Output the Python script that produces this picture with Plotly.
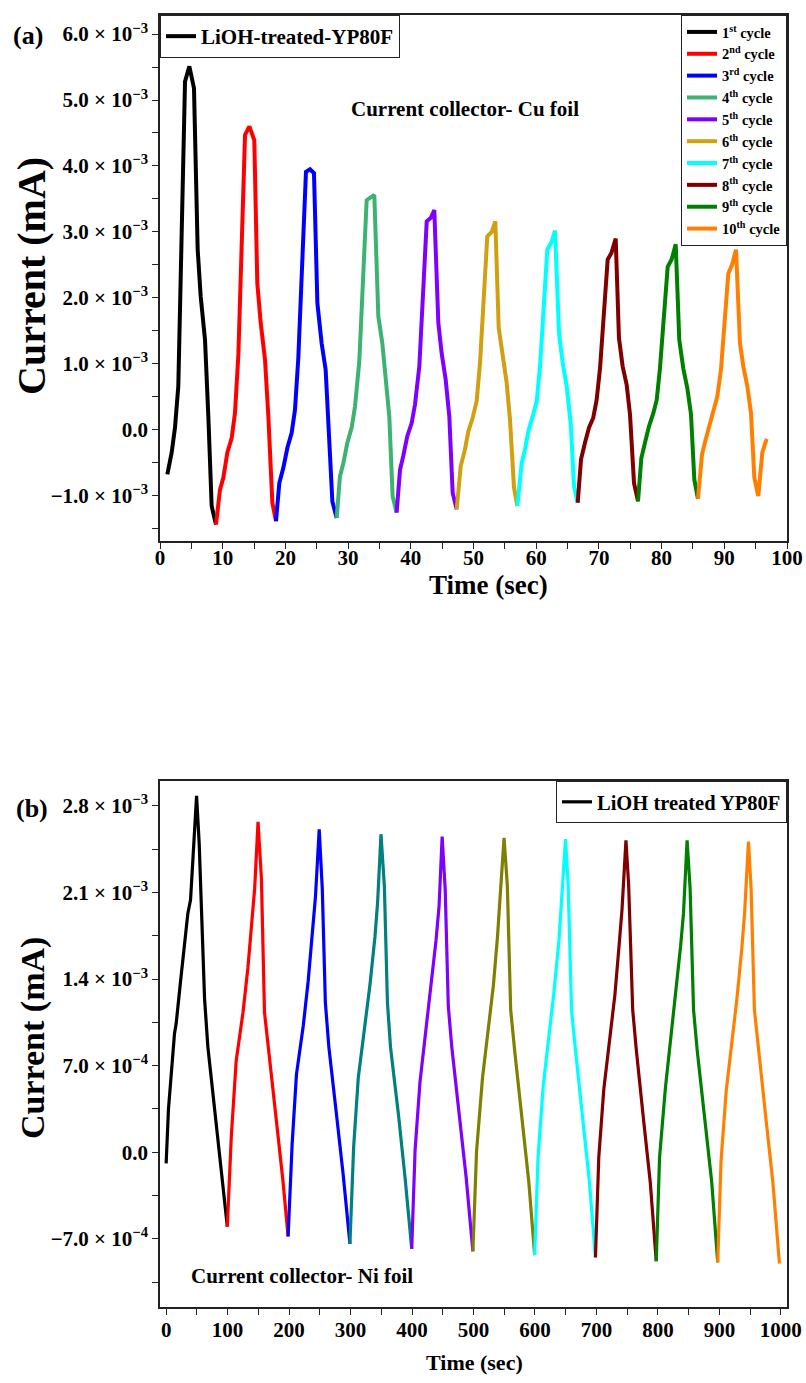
import plotly.graph_objects as go

W, H = 806, 1383
SCALE = 1e-3  # values below are in units of 10^-3 mA

# ---------------- Panel (a): Cu foil ----------------
cycle_names = ["1<sup>st</sup> cycle", "2<sup>nd</sup> cycle", "3<sup>rd</sup> cycle",
               "4<sup>th</sup> cycle", "5<sup>th</sup> cycle", "6<sup>th</sup> cycle",
               "7<sup>th</sup> cycle", "8<sup>th</sup> cycle", "9<sup>th</sup> cycle",
               "10<sup>th</sup> cycle"]
colors_a = ["#000000", "#FF0000", "#0000FF", "#3CB371", "#8000FF",
            "#D0A010", "#00FFFF", "#800000", "#008000", "#FF8000"]

t_a1 = [1.17, 1.86, 2.39, 2.92, 3.99, 4.68, 5.42, 6.01, 6.49, 7.18, 7.71, 8.24, 8.93]
i_a1 = [-0.68, -0.35, 0.03, 0.66, 5.28, 5.51, 5.18, 2.73, 2.02, 1.36, 0.20, -1.16, -1.44]
t_a2 = [9.57, 10.1, 10.74, 11.43, 11.96, 12.5, 13.56, 14.25, 15.04, 15.52, 16.06, 16.75, 17.28, 17.92, 18.5]
i_a2 = [-0.91, -0.73, -0.35, -0.13, 0.25, 1.14, 4.47, 4.60, 4.39, 2.22, 1.62, 1.06, 0.2, -1.11, -1.39]
t_a3 = [19.03, 19.67, 20.31, 21.0, 21.53, 22.06, 23.28, 23.92, 24.56, 25.1, 25.78, 26.42, 26.95, 27.49, 28.18]
i_a3 = [-0.81, -0.58, -0.28, -0.05, 0.30, 1.09, 3.91, 3.95, 3.89, 1.92, 1.31, 0.91, -0.05, -1.09, -1.34]
t_a4 = [28.7, 29.24, 29.88, 30.57, 31.1, 31.79, 32.96, 34.18, 34.82, 35.46, 36.04, 36.57, 37.1, 37.74]
i_a4 = [-0.71, -0.51, -0.20, 0.03, 0.35, 1.04, 3.48, 3.56, 1.72, 1.31, 0.78, 0.2, -1.01, -1.26]
t_a5 = [38.28, 38.8, 39.44, 40.14, 40.67, 41.36, 42.54, 43.17, 43.75, 44.39, 44.92, 45.56, 46.14, 46.68, 47.32]
i_a5 = [-0.61, -0.40, -0.10, 0.10, 0.38, 0.96, 3.16, 3.21, 3.33, 1.62, 1.16, 0.76, 0.20, -0.96, -1.21]
t_a6 = [47.95, 48.64, 49.17, 49.87, 50.5, 51.04, 52.2, 52.9, 53.48, 54.02, 54.65, 55.29, 55.82, 56.46, 56.99]
i_a6 = [-0.56, -0.30, -0.03, 0.18, 0.43, 1.01, 2.93, 3.0, 3.16, 1.54, 1.09, 0.71, 0.15, -0.88, -1.16]
t_a7 = [57.68, 58.21, 58.74, 59.44, 60.08, 60.61, 61.77, 62.47, 63.0, 63.64, 64.23, 64.86, 65.5, 66.03, 66.62]
i_a7 = [-0.51, -0.30, -0.03, 0.20, 0.43, 0.96, 2.73, 2.85, 3.02, 1.46, 1.01, 0.66, 0.1, -0.86, -1.11]
t_a8 = [67.15, 67.78, 68.42, 69.1, 69.64, 70.18, 71.4, 72.0, 72.68, 73.2, 73.79, 74.43, 74.96, 75.6, 76.24]
i_a8 = [-0.45, -0.20, 0.03, 0.18, 0.45, 0.93, 2.58, 2.68, 2.90, 1.39, 0.96, 0.68, 0.23, -0.81, -1.09]
t_a9 = [76.77, 77.35, 77.99, 78.68, 79.22, 79.74, 80.97, 81.6, 82.25, 82.82, 83.46, 84.1, 84.69, 85.22, 85.8]
i_a9 = [-0.43, -0.20, 0.05, 0.25, 0.45, 0.93, 2.47, 2.58, 2.81, 1.36, 0.93, 0.63, 0.23, -0.76, -1.05]
t_a10 = [86.44, 87.03, 87.6, 88.25, 88.88, 89.47, 90.64, 91.23, 91.87, 92.5, 93.03, 93.67, 94.26, 94.79, 95.42, 96.06, 96.75]
i_a10 = [-0.38, -0.15, 0.08, 0.28, 0.5, 0.91, 2.37, 2.5, 2.73, 1.31, 0.96, 0.66, 0.25, -0.73, -1.01, -0.35, -0.14]

t_a = [t_a1, t_a2, t_a3, t_a4, t_a5, t_a6, t_a7, t_a8, t_a9, t_a10]
i_a = [i_a1, i_a2, i_a3, i_a4, i_a5, i_a6, i_a7, i_a8, i_a9, i_a10]

yticks_a = [-1e-3, 0, 1e-3, 2e-3, 3e-3, 4e-3, 5e-3, 6e-3]
yticktext_a = ["−1.0 × 10<sup>−3</sup>", "0.0", "1.0 × 10<sup>−3</sup>", "2.0 × 10<sup>−3</sup>",
               "3.0 × 10<sup>−3</sup>", "4.0 × 10<sup>−3</sup>", "5.0 × 10<sup>−3</sup>",
               "6.0 × 10<sup>−3</sup>"]

# ---------------- Panel (b): Ni foil ----------------
colors_b = ["#000000", "#FF0000", "#0000FF", "#008080", "#8000FF",
            "#808000", "#00FFFF", "#800000", "#008000", "#FF8000"]

t_b1 = [0, 3.8, 13.6, 16.3, 23.4, 35.3, 39.7, 45.1, 49.5, 53.8, 62.5, 67.9, 78.8, 89.7, 99.5]
i_b1 = [-0.09, 0.35, 0.96, 1.04, 1.38, 1.93, 2.04, 2.49, 2.88, 2.49, 1.24, 0.85, 0.32, -0.15, -0.60]
t_b2 = [106, 114, 125, 133, 140, 144, 149.5, 155, 160, 165.8, 179, 190, 198.4]
i_b2 = [0.13, 0.74, 1.13, 1.49, 1.88, 2.13, 2.67, 2.21, 1.13, 0.85, 0.27, -0.23, -0.68]
t_b3 = [205, 212, 223, 231, 238, 243, 249, 254, 259, 264.7, 277, 288, 299]
i_b3 = [0.07, 0.63, 1.02, 1.38, 1.77, 2.07, 2.61, 2.13, 1.21, 0.85, 0.31, -0.18, -0.74]
t_b4 = [305, 312.5, 322, 331.5, 339.7, 344, 349.5, 355, 360, 365, 378, 388.6, 399.5]
i_b4 = [0.04, 0.60, 0.98, 1.35, 1.74, 2.02, 2.57, 2.15, 1.21, 0.85, 0.30, -0.20, -0.78]
t_b5 = [405, 413, 422, 431, 439, 444, 449, 454, 459, 464.7, 477, 488, 499]
i_b5 = [0.02, 0.57, 0.95, 1.32, 1.71, 1.99, 2.55, 2.12, 1.18, 0.85, 0.30, -0.20, -0.80]
t_b6 = [505, 514.6, 524, 532.4, 539, 543, 549.7, 555, 560.5, 567, 579.5, 590, 599.5]
i_b6 = [0.01, 0.60, 0.97, 1.35, 1.74, 2.02, 2.54, 2.16, 1.15, 0.82, 0.26, -0.24, -0.83]
t_b7 = [605, 613.5, 622.7, 630.8, 639, 643, 649.7, 654, 659.5, 666, 678, 688.6, 698.4]
i_b7 = [-0.04, 0.54, 0.93, 1.29, 1.71, 1.99, 2.53, 2.16, 1.15, 0.82, 0.26, -0.24, -0.85]
t_b8 = [703.8, 712, 721, 730, 737, 741.6, 748, 752.4, 759, 765, 776.7, 787.5, 797.3]
i_b8 = [-0.04, 0.51, 0.90, 1.27, 1.68, 1.96, 2.52, 2.16, 1.15, 0.82, 0.26, -0.24, -0.88]
t_b9 = [802.7, 812, 820, 829, 837, 841.6, 847.5, 852.4, 858, 864, 876.7, 887.5, 897.3]
i_b9 = [-0.04, 0.51, 0.88, 1.25, 1.67, 1.93, 2.52, 2.13, 1.15, 0.82, 0.26, -0.24, -0.89]
t_b10 = [902.7, 911, 920, 928.5, 936.5, 941, 947.3, 951.6, 957, 963.6, 976, 987, 997.7]
i_b10 = [-0.07, 0.49, 0.86, 1.24, 1.65, 1.93, 2.51, 2.13, 1.15, 0.82, 0.26, -0.24, -0.90]

t_b = [t_b1, t_b2, t_b3, t_b4, t_b5, t_b6, t_b7, t_b8, t_b9, t_b10]
i_b = [i_b1, i_b2, i_b3, i_b4, i_b5, i_b6, i_b7, i_b8, i_b9, i_b10]

yticks_b = [-7e-4, 0, 7e-4, 1.4e-3, 2.1e-3, 2.8e-3]
yticktext_b = ["−7.0 × 10<sup>−4</sup>", "0.0", "7.0 × 10<sup>−4</sup>", "1.4 × 10<sup>−3</sup>",
               "2.1 × 10<sup>−3</sup>", "2.8 × 10<sup>−3</sup>"]

legend_a_label = "LiOH-treated-YP80F"
legend_b_label = "LiOH treated YP80F"

# ---------------- Figure ----------------
FONT = "Liberation Serif, Times New Roman, serif"
fig = go.Figure()

prev = None
for k in range(10):
    xs, ys = list(t_a[k]), [v * SCALE for v in i_a[k]]
    if prev is not None:
        xs = [prev[0]] + xs
        ys = [prev[1]] + ys
    prev = (xs[-1], ys[-1])
    fig.add_trace(go.Scatter(x=xs, y=ys, mode="lines", name=cycle_names[k],
                             line=dict(color=colors_a[k], width=4),
                             xaxis="x", yaxis="y", legend="legend"))

fig.add_trace(go.Scatter(x=[None], y=[None], mode="lines", name=legend_a_label,
                         line=dict(color="black", width=4), xaxis="x", yaxis="y",
                         legend="legend2"))

prev = None
for k in range(10):
    xs, ys = list(t_b[k]), [v * SCALE for v in i_b[k]]
    if prev is not None:
        xs = [prev[0]] + xs
        ys = [prev[1]] + ys
    prev = (xs[-1], ys[-1])
    fig.add_trace(go.Scatter(x=xs, y=ys, mode="lines", showlegend=False,
                             line=dict(color=colors_b[k], width=3.2),
                             xaxis="x2", yaxis="y2"))

fig.add_trace(go.Scatter(x=[None], y=[None], mode="lines", name=legend_b_label,
                         line=dict(color="black", width=3.2), xaxis="x2", yaxis="y2",
                         legend="legend3"))

def px_x(p):
    return p / W

def px_y(p):
    return 1 - p / H

axis_common = dict(showline=True, linecolor="#222", linewidth=1.5, mirror=True,
                   ticks="outside", ticklen=6, tickwidth=1.2, tickcolor="#222",
                   showgrid=False, zeroline=False, automargin=False,
                   tickfont=dict(family=FONT, size=21, color="black", weight="bold"))

fig.update_layout(
    width=W, height=H, autosize=False, paper_bgcolor="white", plot_bgcolor="white",
    margin=dict(l=0, r=0, t=0, b=0),
    xaxis=dict(domain=[px_x(160), px_x(787)], range=[0, 100], anchor="y",
               tickmode="linear", tick0=0, dtick=10, ticklabelstandoff=-9,
               minor=dict(dtick=5, ticks="outside", ticklen=6, tickcolor="#222"),
               **axis_common),
    yaxis=dict(domain=[px_y(541), px_y(15)], range=[-1.69e-3, 6.29e-3], anchor="x",
               tickmode="array", tickvals=yticks_a, ticktext=yticktext_a,
               minor=dict(tickmode="linear", tick0=0, dtick=0.5e-3, ticks="outside",
                          ticklen=6, tickcolor="#222"),
               **axis_common),
    xaxis2=dict(domain=[px_x(160), px_x(787)], range=[-10, 1010], anchor="y2",
                tickmode="linear", tick0=0, dtick=100, ticklabelstandoff=-3,
                minor=dict(dtick=50, ticks="outside", ticklen=6, tickcolor="#222"),
                **axis_common),
    yaxis2=dict(domain=[px_y(1307), px_y(781)], range=[-1.25e-3, 3.0e-3], anchor="x2",
                tickmode="array", tickvals=yticks_b, ticktext=yticktext_b,
                minor=dict(tickmode="linear", tick0=0, dtick=0.35e-3, ticks="outside",
                           ticklen=6, tickcolor="#222"),
                **axis_common),
    legend=dict(x=px_x(787), xanchor="right", y=px_y(15), yanchor="top",
                bgcolor="white", bordercolor="#222", borderwidth=1,
                font=dict(family=FONT, size=14.5, color="black", weight="bold"),
                tracegroupgap=0, itemwidth=30),
    legend2=dict(x=px_x(160), xanchor="left", y=px_y(15), yanchor="top",
                 bgcolor="white", bordercolor="#222", borderwidth=1,
                 font=dict(family=FONT, size=21, color="black", weight="bold")),
    legend3=dict(x=px_x(787), xanchor="right", y=px_y(781), yanchor="top",
                 bgcolor="white", bordercolor="#222", borderwidth=1,
                 font=dict(family=FONT, size=20.5, color="black", weight="bold")),
)

def ann(text, x, y, size, angle=0):
    fig.add_annotation(text=text, x=px_x(x), y=px_y(y), xref="paper", yref="paper",
                       showarrow=False, textangle=angle, xanchor="center", yanchor="middle",
                       font=dict(family=FONT, size=size, color="black", weight="bold"))

ann("(a)", 28, 36, 26)
ann("(b)", 32, 808, 26)
ann("Current collector- Cu foil", 465, 109, 21)
ann("Current collector- Ni foil", 302, 1276, 21)
ann("Current (mA)", 31, 276, 40, -90)
ann("Current (mA)", 33, 1038, 34, -90)
ann("Time (sec)", 488, 585, 27)
ann("Time (sec)", 474, 1362, 22)

fig.write_html("out.html",
               config={"responsive": False, "displayModeBar": False},
               default_width="806px", default_height="1383px",
               post_script="document.body.style.margin='0px';"
                           "document.body.style.overflow='hidden';")
